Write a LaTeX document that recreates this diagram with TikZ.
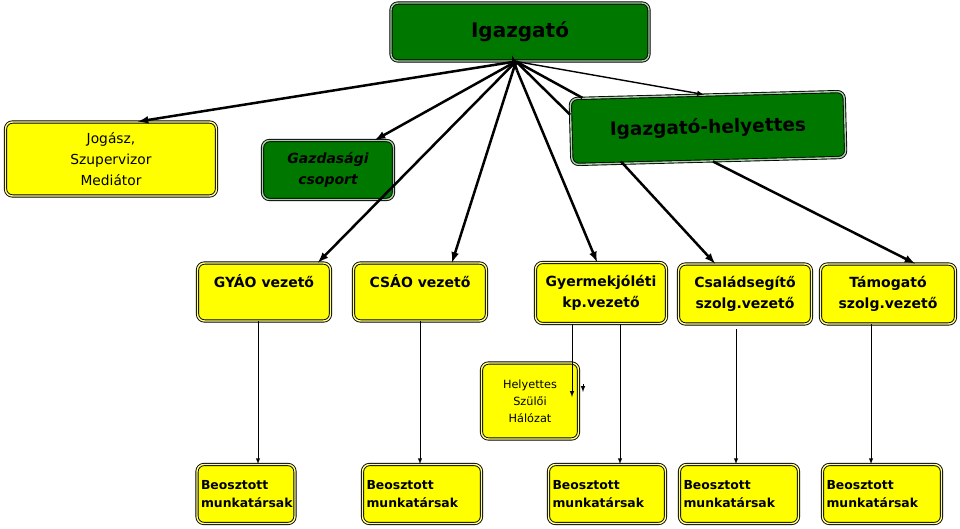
\documentclass[tikz,border=0pt]{standalone}
\usepackage{fontspec}
\setmainfont{DejaVu Sans}
\usetikzlibrary{shapes,arrows}

\definecolor{zold}{RGB}{0,120,0}
\definecolor{sarga}{RGB}{255,255,0}

\tikzset{
	doboz/.style={draw=black, line width=0.9pt, double distance=1.4pt,
		rounded corners=7pt, inner sep=4pt, align=center},
	sargadoboz/.style={doboz, fill=sarga, double=sarga!45!white},
	zolddoboz/.style={doboz, fill=zold, double=zold!35!white},
	vezeto/.style={sargadoboz, minimum width=#1, minimum height=58pt,
		font=\fontsize{14}{21}\selectfont\bfseries},
	beo/.style={sargadoboz, text width=#1, minimum height=59pt, align=left,
		font=\fontsize{12.4}{18}\selectfont\bfseries},
	nyil/.style={-latex, line width=2.5pt},
	vekony/.style={-latex, line width=1pt}
}

\begin{document}
\begin{tikzpicture}[x=1pt,y=-1pt]
	\useasboundingbox (0,0) rectangle (960,529);
	
	% felso szint
	\node[zolddoboz, minimum width=258pt, minimum height=58pt,
		font=\fontsize{20}{24}\selectfont\bfseries] (igazgato) at (520,32) {Igazgató};
	\node[sargadoboz, minimum width=211pt, minimum height=74pt,
		font=\fontsize{13.8}{21}\selectfont] (jogasz) at (111,159) {Jogász,\\Szupervizor\\Mediátor};
	\node[zolddoboz, minimum width=131pt, minimum height=59pt,
		font=\fontsize{14}{21}\selectfont\bfseries\itshape] (gazd) at (328,170) {Gazdasági\\csoport};
	\node[zolddoboz, minimum width=274pt, minimum height=66pt, rotate=1.5,
		font=\fontsize{18.5}{22}\selectfont\bfseries] (helyettes) at (708,128) {Igazgató-helyettes};
	
	% vezetok
	\node[vezeto=133pt] (gyao) at (264,292) {GYÁO vezető\\\mbox{}};
	\node[vezeto=133pt] (csao) at (420,292) {CSÁO vezető\\\mbox{}};
	\node[vezeto=131pt, minimum height=61pt] (gyerm) at (601,293) {Gyermekjóléti\\kp.vezető};
	\node[vezeto=133pt, minimum height=60pt] (csal) at (745,294) {Családsegítő\\szolg.vezető};
	\node[vezeto=135pt, minimum height=60pt] (tam) at (888,294) {Támogató\\szolg.vezető};
	
	\node[sargadoboz, minimum width=97pt, minimum height=76pt,
		font=\fontsize{11.3}{17}\selectfont] (hely) at (530,401) {Helyettes\\Szülői\\Hálózat};
	
	% beosztottak
	\foreach \n/\x/\w in {1/246/90pt, 2/422/111pt, 3/607/109pt, 4/739/111pt, 5/882/111pt}
	{
		\node[beo=\w] (b\n) at (\x,494) {Beosztott\\munkatársak};
	}
	
	% igazgato nyilai
	\coordinate (kozep) at ([xshift=-4pt]igazgato.south);
	\coordinate (kozep2) at ([xshift=-3pt,yshift=-9pt]igazgato.south);
	\draw[nyil] (kozep) -- ([xshift=27pt]jogasz.north);
	\draw[nyil] (kozep) -- ([xshift=47pt]gazd.north);
	\draw[nyil] (kozep) -- ([xshift=54pt]gyao.north);
	\draw[nyil] (kozep) -- ([xshift=32pt]csao.north);
	\draw[nyil] (kozep2) -- ([xshift=-4pt]gyerm.north);
	\draw[nyil] (kozep2) -- ([xshift=-8pt,yshift=6pt]igazgato.south);
	\draw[line width=2.5pt] (kozep) -- (helyettes.173);
	\draw[line width=2.5pt] (kozep) -- (helyettes.165);
	\draw[vekony, line width=1.4pt] (kozep) -- ([xshift=-3pt]helyettes.north);
	
	% helyettes nyilai
	\draw[nyil] ([xshift=-88pt]helyettes.south) -- ([xshift=-30pt]csal.north);
	\draw[nyil] ([xshift=4pt]helyettes.south) -- ([xshift=27pt]tam.north);
	
	% also nyilak
	\draw[vekony] ([xshift=-6pt]gyao.south) -- ([xshift=-6pt]gyao.south |- b1.north);
	\draw[vekony] (csao.south) -- (csao.south |- b2.north);
	\draw[vekony] ([xshift=19pt]gyerm.south) -- ([xshift=19pt]gyerm.south |- b3.north);
	\draw[vekony] ([xshift=-29pt]gyerm.south) -- ([xshift=42pt,yshift=4pt]hely.center);
	\draw[vekony] ([xshift=53pt,yshift=17pt]hely.center) -- ([xshift=53pt,yshift=9pt]hely.center);
	\draw[vekony] ([xshift=-9pt,yshift=-5pt]csal.south) -- ([xshift=-9pt]csal.south |- b4.north);
	\draw[vekony] ([xshift=-17pt]tam.south) -- ([xshift=-17pt]tam.south |- b5.north);
\end{tikzpicture}
\end{document}
